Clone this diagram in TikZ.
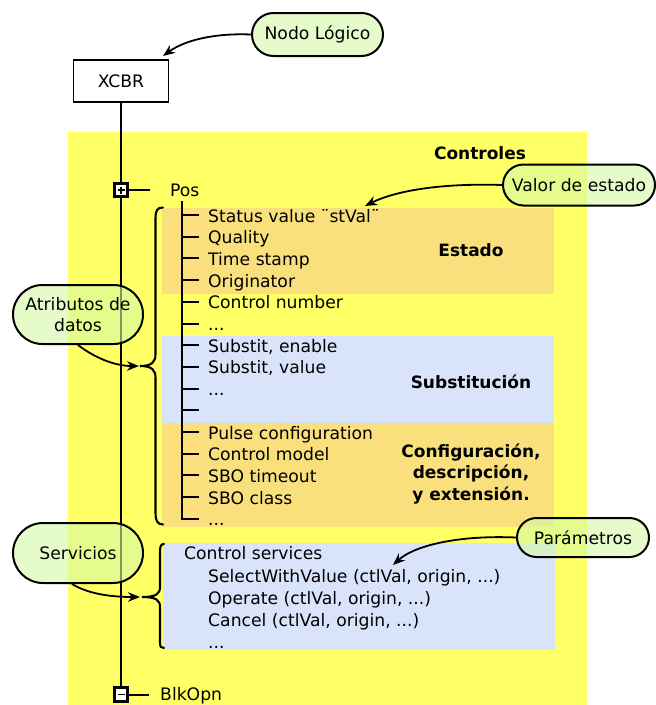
\documentclass[tikz,border=0pt]{standalone}
\usepackage{fontspec}
\setmainfont{DejaVu Sans}
\usetikzlibrary{arrows.meta,shapes.misc,calc}

\definecolor{bgyellow}{RGB}{255,255,102}
\definecolor{bandorange}{RGB}{249,224,125}
\definecolor{bandblue}{RGB}{217,228,251}
\definecolor{calloutfill}{RGB}{212,250,166}

\newcommand{\etcdots}{...}

\tikzset{
  basefont/.style={font=\fontsize{17.2}{21}\selectfont},
  txt/.style={basefont, inner sep=0pt, anchor=base west},
  head/.style={font=\fontsize{17}{21.5}\selectfont\bfseries, inner sep=0pt, align=center},
  callout/.style={rounded rectangle, draw, line width=2pt, fill=calloutfill,
    fill opacity=0.6, draw opacity=1, text opacity=1, basefont, inner sep=0pt, align=center},
  pointer/.style={-{Stealth[length=12pt,width=9.5pt]}, line width=1.8pt},
  wire/.style={line width=2pt},
  brace/.style={line width=2.1pt, line cap=round},
  toggle/.style={draw, line width=2.8pt, fill=white, minimum size=13.5pt, inner sep=0pt},
}

\begin{document}
\begin{tikzpicture}[x=1pt,y=-1pt]
\useasboundingbox (0,0) rectangle (656,705);

% background panel and coloured bands
\fill[bgyellow] (68,132) rectangle (587,705);
\fill[bandorange] (162,208) rectangle (554,294);
\fill[bandblue]   (162,336) rectangle (554,423);
\fill[bandorange] (162,423) rectangle (554,527);
\fill[bandblue]   (163,543) rectangle (555,650);

% logical node and its main trunk
\node[draw, line width=1.5pt, minimum width=95pt, minimum height=42pt, basefont] (xcbr) at (121,81) {XCBR};
\node[toggle] (plus) at (121,190) {};
\node[toggle] (minus) at (121,694.5) {};
\draw[wire] (xcbr.south) -- (plus.north);
\draw[wire] (plus.south) -- (minus.north);
\draw[line width=1.5pt] ($(plus)+(-3.5,0)$) -- ($(plus)+(3.5,0)$)
                        ($(plus)+(0,-3.5)$) -- ($(plus)+(0,3.5)$);
\draw[line width=1.5pt] ($(minus)+(-3.5,0)$) -- ($(minus)+(3.5,0)$);

% data objects
\draw[wire] (plus.east) -- ++(21,0) coordinate (posend);
\node[txt] (pos) at (170,196) {Pos};
\draw[wire] (minus.east) -- ++(20,0) coordinate (blkend);
\node[txt] (blk) at (160,700) {BlkOpn};

% attribute tree of Pos
\coordinate (trunktop) at (182,201);
\coordinate (trunkbot) at (182,520);
\draw[wire] (trunktop) -- (trunkbot);
\foreach \i/\t in {0/{Status value ¨stVal¨}, 1/Quality, 2/Time stamp, 3/Originator,
                   4/Control number, 5/\etcdots, 6/{Substit, enable}, 7/{Substit, value},
                   8/\etcdots, 9/{}, 10/Pulse configuration, 11/Control model,
                   12/SBO timeout, 13/SBO class, 14/\etcdots}{
  \pgfmathsetmacro{\yy}{215+21.7*\i}
  \draw[wire] (181,\yy) -- (198.5,\yy);
  \node[txt] (row\i) at (208,\yy+7) {\t};
}

% band titles
\node[head, anchor=base] (controles) at (480,159) {Controles};
\node[head, anchor=base] (estado) at (471,256) {Estado};
\node[head, anchor=base] (subst) at (471,388) {Substitución};
\node[head] (config) at (471,474) {Configuración,\\descripción,\\y extensión.};

% services
\node[txt] (ctlsrv) at (184,559) {Control services};
\node[txt] (sel) at (208,582) {SelectWithValue (ctlVal, origin, \etcdots)};
\node[txt] (oper) at (208,604.5) {Operate (ctlVal, origin, \etcdots)};
\node[txt] (canc) at (208,626.5) {Cancel (ctlVal, origin, \etcdots)};
\node[txt] (srvdots) at (208,648) {\etcdots};

% braces
\coordinate (attrtip) at (140,366);
\draw[brace] (163,207.5) .. controls (157,207.5) and (155.5,211) .. (155.5,218)
  -- (155.5,354) .. controls (155.5,362) and (152,366) .. (attrtip)
  .. controls (152,366) and (155.5,370) .. (155.5,378)
  -- (155.5,513) .. controls (155.5,520) and (157,524.5) .. (163,524.5);
\coordinate (srvtip) at (142,597);
\draw[brace] (164,544) .. controls (161,544) and (160,546) .. (160,552)
  -- (160,587) .. controls (160,594) and (156,597) .. (srvtip)
  .. controls (156,597) and (160,600) .. (160,607)
  -- (160,642) .. controls (160,647) and (161,648) .. (164,648);

% callouts
\node[callout, minimum width=131pt, minimum height=43pt] (nodo) at (317.5,34.5) {Nodo Lógico};
\node[callout, minimum width=152pt, minimum height=41pt] (valor) at (579,185) {Valor de estado};
\node[callout, minimum width=130pt, minimum height=59pt] (atrib) at (78,314.5) {Atributos de\\datos};
\node[callout, minimum width=130pt, minimum height=60pt] (serv) at (78,553) {Servicios};
\node[callout, minimum width=132pt, minimum height=39pt] (param) at (583,537.5) {Parámetros};

% callout pointers
\coordinate (xcbrtip) at (163,56);
\coordinate (stvaltip) at (365,206);
\coordinate (paramtip) at (393,565);
\draw[pointer] (nodo.west) .. controls (215,33) and (185,40) .. (xcbrtip);
\draw[pointer] (valor.west) .. controls (440,183) and (395,191) .. (stvaltip);
\draw[pointer] (param.west) .. controls (460,535) and (415,545) .. (paramtip);
\draw[pointer] (atrib.south) .. controls (95,358) and (115,366) .. ($(attrtip)+(-1,0)$);
\draw[pointer] ($(serv.south)+(-6,0)$) .. controls (90,595) and (115,597) .. ($(srvtip)+(-2,0)$);
\end{tikzpicture}
\end{document}
